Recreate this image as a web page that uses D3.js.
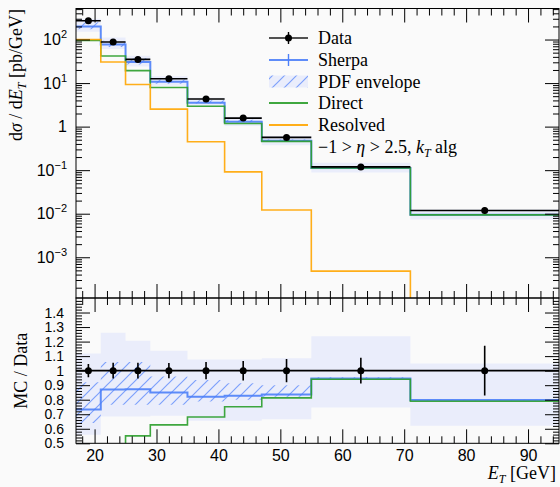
<!DOCTYPE html>
<html lang="en">
<head>
<meta charset="UTF-8">
<title>Photoproduction jets</title>
<script src="https://cdn.jsdelivr.net/npm/d3@7"></script>
<style>
    body { margin: 0; background: #fafafa; }
    svg { display: block; font-family: 'Liberation Serif', 'DejaVu Serif', serif; }
    .tick line { stroke: #000; }
    .tick text { fill: #000; font-size: 16px; }
</style>
</head>
<body>
<div id="chart"></div>
<script>
    // ---- data ----
    const binEdges = [17, 21, 25, 29, 35, 41, 47, 55, 71, 95];
    const binCentres = [19, 23, 27, 32, 38, 44, 51, 63, 83];
    const dataVals = [270, 88, 35, 12.6, 4.3, 1.57, 0.565, 0.119, 0.0119];
    const dataRelErr = [0.045, 0.054, 0.054, 0.052, 0.06, 0.067, 0.08, 0.088, 0.171];
    const sherpaVals = [198, 76.6, 30.5, 10.7, 3.53, 1.30, 0.472, 0.1125, 0.0095];
    const directVals = [95, 41.8, 19.3, 7.9, 2.93, 1.18, 0.459, 0.112, 0.0094];
    const resolvedVals = [100, 30.4, 9.3, 2.52, 0.448, 0.0914, 0.0122, 0.00048, 0.00001];
    // uncertainty bands, as MC / Data ratio
    const bandLo = [0.559, 0.685, 0.685, 0.69, 0.655, 0.655, 0.665, 0.747, 0.62];
    const bandHi = [1.118, 1.26, 1.205, 1.137, 1.077, 1.077, 1.085, 1.237, 1.05];
    const pdfLo = [0.64, 0.765, 0.765, 0.765, 0.788, 0.80, 0.82, 0.94, 0.795];
    const pdfHi = [0.92, 1.06, 1.06, 0.96, 0.936, 0.913, 0.90, 0.955, 0.80];

    const legendItems = ["Data", "Sherpa", "PDF envelope", "Direct", "Resolved"];

    const colors = {
        data: "#000",
        sherpa: "#4d7ff8",
        hatch: "#7ea1fb",
        band: "#eaedfb",
        direct: "#2a9d2a",
        resolved: "#ffa500"
    };

    // ---- layout ----
    const width = 560, height = 487;
    const left = 76, right = 559;
    const topY0 = 8.5, split = 298, botY1 = 443.3;

    const svg = d3.select("#chart").append("svg")
        .attr("width", width).attr("height", height);

    const defs = svg.append("defs");
    const pat = defs.append("pattern").attr("id", "hatch")
        .attr("patternUnits", "userSpaceOnUse")
        .attr("width", 12).attr("height", 12);
    pat.append("path")
        .attr("d", "M0,12 L12,0 M-3,3 L3,-3 M9,15 L15,9")
        .attr("stroke", colors.hatch).attr("stroke-width", 1.2);

    defs.append("clipPath").attr("id", "clipTop").append("rect")
        .attr("x", left).attr("y", topY0).attr("width", right - left).attr("height", split - topY0);
    defs.append("clipPath").attr("id", "clipBot").append("rect")
        .attr("x", left).attr("y", split).attr("width", right - left).attr("height", botY1 - split);

    const x = d3.scaleLinear().domain([17, 95]).range([left, right]);
    const yTop = d3.scaleLog().domain([1.16e-4, 516]).range([split, topY0]);
    const yBot = d3.scaleLinear().domain([0.5, 1.5]).range([botY1, split]);

    // step helpers: one point per bin edge, last value repeated
    const stepPts = vals => binEdges.map((e, i) => [e, vals[Math.min(i, vals.length - 1)]]);
    const stepLine = ys => d3.line().x(d => x(d[0])).y(d => ys(d[1])).curve(d3.curveStepAfter);
    const stepArea = ys => d3.area().x(d => x(d[0])).y0(d => ys(d[1])).y1(d => ys(d[2])).curve(d3.curveStepAfter);
    const bandPts = (lo, hi, scaleBy) => binEdges.map((e, i) => {
        const k = Math.min(i, lo.length - 1);
        const f = scaleBy ? scaleBy[k] : 1;
        return [e, lo[k] * f, hi[k] * f];
    });

    // ================= TOP PANEL =================
    const gTop = svg.append("g").attr("clip-path", "url(#clipTop)");

    gTop.append("path").attr("d", stepArea(yTop)(bandPts(bandLo, bandHi, dataVals)))
        .attr("fill", colors.band);
    gTop.append("path").attr("d", stepArea(yTop)(bandPts(pdfLo, pdfHi, dataVals)))
        .attr("fill", "url(#hatch)");

    [[sherpaVals, colors.sherpa, 2], [directVals, colors.direct, 1.6], [resolvedVals, colors.resolved, 1.6]]
        .forEach(([vals, c, w]) => {
            gTop.append("path").attr("d", stepLine(yTop)(stepPts(vals)))
                .attr("fill", "none").attr("stroke", c).attr("stroke-width", w).attr("stroke-opacity", 0.9);
        });

    // data in top panel
    const dTop = gTop.append("g");
    dataVals.forEach((v, i) => {
        dTop.append("line")
            .attr("x1", x(binEdges[i])).attr("x2", x(binEdges[i + 1]))
            .attr("y1", yTop(v)).attr("y2", yTop(v))
            .attr("stroke", "#000").attr("stroke-width", 1.6);
        dTop.append("line")
            .attr("x1", x(binCentres[i])).attr("x2", x(binCentres[i]))
            .attr("y1", yTop(v * (1 + dataRelErr[i]))).attr("y2", yTop(v * (1 - dataRelErr[i])))
            .attr("stroke", "#000").attr("stroke-width", 1.6);
        dTop.append("circle").attr("cx", x(binCentres[i])).attr("cy", yTop(v)).attr("r", 3.5).attr("fill", "#000");
    });

    // ================= BOTTOM PANEL =================
    const gBot = svg.append("g").attr("clip-path", "url(#clipBot)");

    gBot.append("path").attr("d", stepArea(yBot)(bandPts(bandLo, bandHi))).attr("fill", colors.band);
    gBot.append("path").attr("d", stepArea(yBot)(bandPts(pdfLo, pdfHi))).attr("fill", "url(#hatch)");

    const ratio = vals => vals.map((v, i) => v / dataVals[i]);
    gBot.append("path").attr("d", stepLine(yBot)(stepPts(dataVals.map(() => 1))))
        .attr("fill", "none").attr("stroke", "#000").attr("stroke-width", 1.6);
    [[sherpaVals, colors.sherpa, 2], [directVals, colors.direct, 1.6], [resolvedVals, colors.resolved, 1.6]]
        .forEach(([vals, c, w]) => {
            gBot.append("path").attr("d", stepLine(yBot)(stepPts(ratio(vals))))
                .attr("fill", "none").attr("stroke", c).attr("stroke-width", w).attr("stroke-opacity", 0.9);
        });
    dataVals.forEach((v, i) => {
        gBot.append("line")
            .attr("x1", x(binCentres[i])).attr("x2", x(binCentres[i]))
            .attr("y1", yBot(1 + dataRelErr[i])).attr("y2", yBot(1 - dataRelErr[i]))
            .attr("stroke", "#000").attr("stroke-width", 1.6);
        gBot.append("circle").attr("cx", x(binCentres[i])).attr("cy", yBot(1)).attr("r", 3.5).attr("fill", "#000");
    });

    // ================= AXES =================
    const xMajor = d3.range(20, 91, 10);
    const xMinor = d3.range(18, 95, 2).filter(v => v % 10 !== 0);
    const logMajor = d3.range(-3, 3).map(p => Math.pow(10, p));
    const logMinor = [];
    d3.range(-4, 3).forEach(p => d3.range(2, 10).forEach(k => {
        const v = k * Math.pow(10, p);
        if (v > 1.16e-4 && v < 516) logMinor.push(v);
    }));
    const linMajor = d3.range(5, 15).map(v => v / 10);
    const linMinor = d3.range(25, 76).map(v => v / 50).filter(v => Math.abs(v * 10 - Math.round(v * 10)) > 1e-6);

    const axG = svg.append("g");
    function drawAxis(axis, tx, ty) {
        const g = axG.append("g").attr("transform", `translate(${tx},${ty})`).call(axis);
        g.select(".domain").remove();
        g.selectAll(".tick line").attr("stroke-width", 1);
        return g;
    }
    const noLab = () => "";

    // x ticks on both panels, top & bottom edges of each
    [[topY0, split], [split, botY1]].forEach(([y0, y1]) => {
        drawAxis(d3.axisTop(x).tickValues(xMajor).tickSize(-14).tickFormat(noLab), 0, y0);
        drawAxis(d3.axisTop(x).tickValues(xMinor).tickSize(-7).tickFormat(noLab), 0, y0);
        drawAxis(d3.axisBottom(x).tickValues(xMajor).tickSize(-14).tickFormat(noLab), 0, y1);
        drawAxis(d3.axisBottom(x).tickValues(xMinor).tickSize(-7).tickFormat(noLab), 0, y1);
    });
    // x labels under bottom panel
    drawAxis(d3.axisBottom(x).tickValues(xMajor).tickSize(0).tickPadding(6).tickFormat(d3.format("d")), 0, botY1);

    // top panel y ticks
    const yl = drawAxis(d3.axisLeft(yTop).tickValues(logMajor).tickSize(-14).tickPadding(9), left, 0);
    yl.selectAll(".tick text").each(function (d) {
        const t = d3.select(this).text("");
        const p = Math.round(Math.log10(d));
        if (p === 0) { t.text("1"); return; }
        t.append("tspan").text("10");
        t.append("tspan").attr("dy", -7).attr("font-size", 11).text(p < 0 ? "\u2212" + (-p) : p);
    });
    drawAxis(d3.axisLeft(yTop).tickValues(logMinor).tickSize(-6).tickFormat(noLab), left, 0);
    drawAxis(d3.axisRight(yTop).tickValues(logMajor).tickSize(-14).tickFormat(noLab), right, 0);
    drawAxis(d3.axisRight(yTop).tickValues(logMinor).tickSize(-6).tickFormat(noLab), right, 0);

    // bottom panel y ticks
    drawAxis(d3.axisLeft(yBot).tickValues(linMajor).tickSize(-14).tickPadding(12)
        .tickFormat(d => Math.abs(d - 1) < 1e-9 ? "1" : d.toFixed(1)), left, 0)
        .selectAll(".tick text").style("font-size", "14px");
    drawAxis(d3.axisLeft(yBot).tickValues(linMinor).tickSize(-6).tickFormat(noLab), left, 0);
    drawAxis(d3.axisRight(yBot).tickValues(linMajor).tickSize(-14).tickFormat(noLab), right, 0);
    drawAxis(d3.axisRight(yBot).tickValues(linMinor).tickSize(-6).tickFormat(noLab), right, 0);

    // frames
    svg.append("rect").attr("x", left).attr("y", topY0).attr("width", right - left).attr("height", split - topY0)
        .attr("fill", "none").attr("stroke", "#000").attr("stroke-width", 1);
    svg.append("rect").attr("x", left).attr("y", split).attr("width", right - left).attr("height", botY1 - split)
        .attr("fill", "none").attr("stroke", "#000").attr("stroke-width", 1);

    // ---- axis titles ----
    const yt = svg.append("text").attr("transform", `translate(22,9) rotate(-90)`)
        .attr("text-anchor", "end").attr("font-size", 18);
    yt.append("tspan").text("d");
    yt.append("tspan").attr("font-style", "italic").text("\u03c3");
    yt.append("tspan").text(" / d");
    yt.append("tspan").attr("font-style", "italic").text("E");
    yt.append("tspan").attr("font-style", "italic").attr("font-size", 12).attr("dy", 4).text("T");
    yt.append("tspan").attr("dy", -4).text(" [pb/GeV]");

    svg.append("text").attr("transform", `translate(27,${(split + botY1) / 2}) rotate(-90)`)
        .attr("text-anchor", "middle").attr("font-size", 18).text("MC / Data");

    const xt = svg.append("text").attr("x", 556).attr("y", 479).attr("text-anchor", "end").attr("font-size", 18);
    xt.append("tspan").attr("font-style", "italic").text("E");
    xt.append("tspan").attr("font-style", "italic").attr("font-size", 12).attr("dy", 4).text("T");
    xt.append("tspan").attr("dy", -4).text(" [GeV]");

    // ---- legend ----
    const lg = svg.append("g");
    const lx0 = 269, lx1 = 308, tx = 318, rowY = [38, 60, 81.5, 103, 125, 146.5];
    legendItems.forEach((name, i) => {
        const y = rowY[i];
        if (name === "PDF envelope") {
            lg.append("rect").attr("x", lx0).attr("y", y - 6).attr("width", lx1 - lx0).attr("height", 12).attr("fill", colors.band);
            lg.append("rect").attr("x", lx0).attr("y", y - 6).attr("width", lx1 - lx0).attr("height", 12).attr("fill", "url(#hatch)");
        } else {
            const c = { Data: colors.data, Sherpa: colors.sherpa, Direct: colors.direct, Resolved: colors.resolved }[name];
            lg.append("line").attr("x1", lx0).attr("x2", lx1).attr("y1", y).attr("y2", y)
                .attr("stroke", c).attr("stroke-width", name === "Data" ? 1.6 : 2).attr("stroke-opacity", 0.9);
            if (name === "Data" || name === "Sherpa") {
                lg.append("line").attr("x1", (lx0 + lx1) / 2).attr("x2", (lx0 + lx1) / 2)
                    .attr("y1", y - 6).attr("y2", y + 6).attr("stroke", c).attr("stroke-width", 1.4);
            }
            if (name === "Data") lg.append("circle").attr("cx", (lx0 + lx1) / 2).attr("cy", y).attr("r", 3.5).attr("fill", "#000");
        }
        lg.append("text").attr("x", tx).attr("y", y + 6).attr("font-size", 18).text(name);
    });
    const lt = lg.append("text").attr("x", tx).attr("y", rowY[5] + 6).attr("font-size", 18);
    lt.append("tspan").text("\u22121 > ");
    lt.append("tspan").attr("font-style", "italic").text("\u03b7");
    lt.append("tspan").text(" > 2.5, ");
    lt.append("tspan").attr("font-style", "italic").text("k");
    lt.append("tspan").attr("font-style", "italic").attr("font-size", 12).attr("dy", 4).text("T");
    lt.append("tspan").attr("dy", -4).text(" alg");
</script>
</body>
</html>
